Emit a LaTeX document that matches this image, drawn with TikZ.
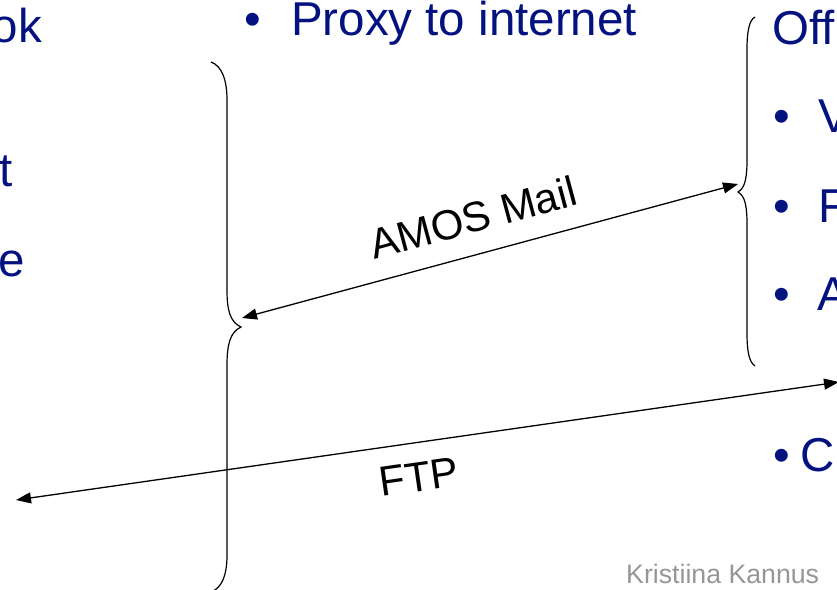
\documentclass[tikz,border=0pt]{standalone}
\usepackage{fontspec}
\setmainfont{Liberation Sans}
\usetikzlibrary{arrows.meta}
\definecolor{navy}{RGB}{4,18,128}
\definecolor{sig}{RGB}{150,150,150}
\begin{document}
\begin{tikzpicture}[x=1pt,y=-1pt,
  big/.style={inner sep=0pt,text=navy,font=\fontsize{47.5}{57}\selectfont},
  lbl/.style={inner sep=0pt,text=black,font=\fontsize{42}{50}\selectfont},
  brace/.style={draw=black,line width=1.2pt},
  conn/.style={draw=black,line width=1.3pt,{Triangle[length=15pt,width=11pt]}-{Triangle[length=15pt,width=11pt]}}]
\useasboundingbox (0,0) rectangle (837,589);
% left column texts (cut off)
\node[big,anchor=base east] (tok) at (42,42) {ok};
\node[big,anchor=base east] (tt) at (12.5,186) {t};
\node[big,anchor=base east] (te) at (25.5,276) {e};
% proxy
\node[big,anchor=base] (b1) at (253,35) {•};
\node[big,anchor=base west] (tproxy) at (291,35) {Proxy to internet};
% right column
\node[big,anchor=base west] (toff) at (772,44) {Off};
\node[big,anchor=base] (b2) at (782,132) {•};
\node[big,anchor=base west] (tv) at (818,132) {V};
\node[big,anchor=base] (b3) at (782,222) {•};
\node[big,anchor=base west] (tf) at (818,222) {F};
\node[big,anchor=base] (b4) at (782,310) {•};
\node[big,anchor=base west] (ta) at (817,310) {A};
\node[big,anchor=base] (b5) at (782,471) {•};
\node[big,anchor=base west] (tc) at (800,471) {C};
% signature
\node[inner sep=0pt,text=sig,font=\fontsize{26.7}{32}\selectfont,anchor=base west] (sig) at (626,583) {Kristiina Kannus};
% left brace
\draw[brace] (211,62) .. controls (222,66) and (227,80) .. (227,100)
  -- (227,290) .. controls (227,310) and (230,322) .. (241,327)
  .. controls (230,332) and (227,345) .. (227,365)
  -- (227,555) .. controls (227,575) and (222,588) .. (211,592);
% right brace
\draw[brace] (755,17) .. controls (749,20) and (747,32) .. (747,50)
  -- (747,160) .. controls (747,178) and (745,188) .. (738,192)
  .. controls (745,196) and (747,206) .. (747,224)
  -- (747,333) .. controls (747,351) and (749,362) .. (755,366);
% connectors
\coordinate (amosL) at (242,318);
\coordinate (amosR) at (738,184);
\coordinate (ftpL) at (16,500);
\coordinate (ftpR) at (839,382);
\draw[conn] (amosL) -- (amosR);
\draw[conn] (ftpL) -- (ftpR);
\node[lbl,rotate=15.1,anchor=base] (lamos) at (477,232) {AMOS Mail};
\node[lbl,rotate=8.2,anchor=base] (lftp) at (421,491) {FTP};
\end{tikzpicture}
\end{document}
